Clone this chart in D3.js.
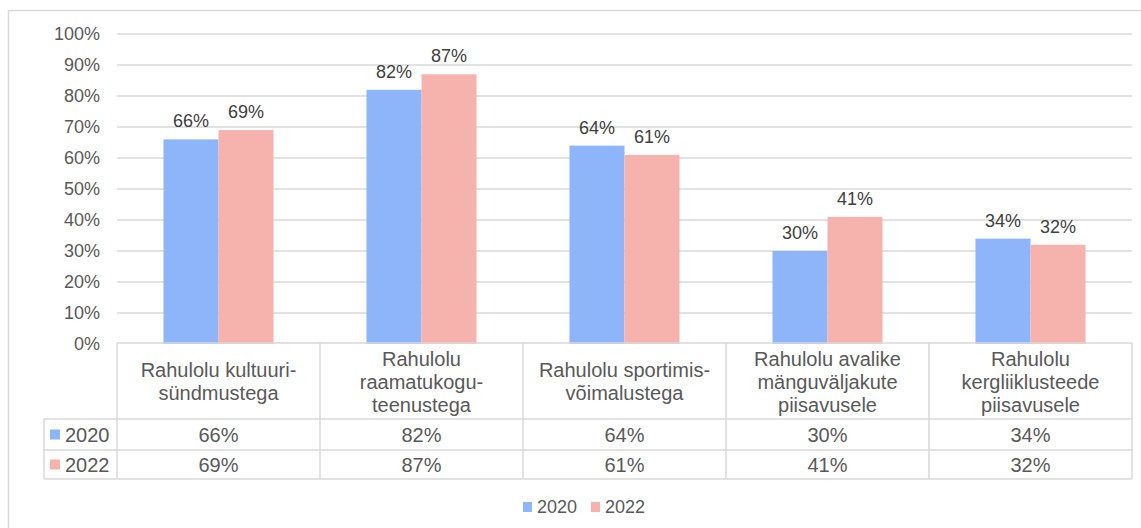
<!DOCTYPE html>
<html>
<head>
<meta charset="utf-8">
<script src="https://cdn.jsdelivr.net/npm/d3@7"></script>
<style>
  body { margin: 0; background: #fff; }
  svg text { font-family: "Liberation Sans", Arial, sans-serif; }
</style>
</head>
<body>
<div id="chart"></div>
<script>
// chart data
var categories = [
    ["Rahulolu kultuuri-", "sündmustega"],
    ["Rahulolu", "raamatukogu-", "teenustega"],
    ["Rahulolu sportimis-", "võimalustega"],
    ["Rahulolu avalike", "mänguväljakute", "piisavusele"],
    ["Rahulolu", "kergliiklusteede", "piisavusele"]
];
var seriesNames = ["2020", "2022"];
var values2020 = [0.66, 0.82, 0.64, 0.30, 0.34];
var values2022 = [0.69, 0.87, 0.61, 0.41, 0.32];
var yTicks = [0, 0.1, 0.2, 0.3, 0.4, 0.5, 0.6, 0.7, 0.8, 0.9, 1.0];
var colors = ["#8eb4f9", "#f6b3ae"];

var width = 1141, height = 528;
var gridColor = "#d9d9d9", textColor = "#595959";
var plotLeft = 117, plotRight = 1132, plotTop = 34, plotBottom = 344;
var headerBottom = 419, row1Bottom = 450, row2Bottom = 479, legendLeft = 44;

var svg = d3.select("#chart")
    .append("svg")
    .attr("width", width)
    .attr("height", height);

// outer border
svg.append("rect")
    .attr("x", 8.5).attr("y", 10.5)
    .attr("width", 1140).attr("height", 530)
    .attr("fill", "none")
    .attr("stroke", gridColor)
    .attr("stroke-width", 1.5);

var idx = d3.range(categories.length);
var x0 = d3.scaleBand().domain(idx).range([plotLeft, plotRight]);
var x1 = d3.scaleBand().domain(seriesNames).range([0, x0.bandwidth()]).paddingOuter(0.845);
var y = d3.scaleLinear().domain([0, 1]).range([plotBottom, plotTop]);

// gridlines
svg.selectAll(".grid")
    .data(yTicks.slice(1))
    .join("line")
    .attr("x1", plotLeft).attr("x2", plotRight)
    .attr("y1", function (d) { return y(d); })
    .attr("y2", function (d) { return y(d); })
    .attr("stroke", gridColor)
    .attr("stroke-width", 1.5);

// y tick labels
svg.selectAll(".ytick")
    .data(yTicks)
    .join("text")
    .attr("x", 100)
    .attr("y", function (d) { return y(d); })
    .attr("dy", "0.35em")
    .attr("text-anchor", "end")
    .attr("font-size", "18px")
    .attr("fill", textColor)
    .text(function (d) { return Math.round(d * 100) + "%"; });

var allSeries = [values2020, values2022];

// bars + data labels
allSeries.forEach(function (vals, s) {
    svg.selectAll(".bar" + s)
        .data(vals)
        .join("rect")
        .attr("x", function (d, i) { return x0(i) + x1(seriesNames[s]); })
        .attr("y", function (d) { return y(d); })
        .attr("width", x1.bandwidth())
        .attr("height", function (d) { return y(0) - y(d); })
        .attr("fill", colors[s]);

    svg.selectAll(".lbl" + s)
        .data(vals)
        .join("text")
        .attr("x", function (d, i) { return x0(i) + x1(seriesNames[s]) + x1.bandwidth() / 2; })
        .attr("y", function (d) { return y(d) - 12; })
        .attr("text-anchor", "middle")
        .attr("font-size", "18px")
        .attr("fill", "#404040")
        .text(function (d) { return Math.round(d * 100) + "%"; });
});

// data table lines
var hLines = [
    {y: plotBottom - 1, x1: plotLeft, x2: plotRight},
    {y: headerBottom, x1: legendLeft, x2: plotRight},
    {y: row1Bottom, x1: legendLeft, x2: plotRight},
    {y: row2Bottom, x1: legendLeft, x2: plotRight}
];
svg.selectAll(".hline")
    .data(hLines)
    .join("line")
    .attr("x1", function (d) { return d.x1; })
    .attr("x2", function (d) { return d.x2; })
    .attr("y1", function (d) { return d.y; })
    .attr("y2", function (d) { return d.y; })
    .attr("stroke", gridColor)
    .attr("stroke-width", 1.5);

var vLines = idx.map(function (i) { return x0(i); }).concat([plotRight]);
svg.selectAll(".vline")
    .data(vLines)
    .join("line")
    .attr("x1", function (d) { return d; })
    .attr("x2", function (d) { return d; })
    .attr("y1", plotBottom - 1)
    .attr("y2", row2Bottom)
    .attr("stroke", gridColor)
    .attr("stroke-width", 1.5);
svg.append("line")
    .attr("x1", legendLeft).attr("x2", legendLeft)
    .attr("y1", headerBottom).attr("y2", row2Bottom)
    .attr("stroke", gridColor)
    .attr("stroke-width", 1.5);

// header labels
var lineH = 23;
var headerMid = (plotBottom + headerBottom) / 2;
categories.forEach(function (lines, i) {
    var t = svg.append("text")
        .attr("text-anchor", "middle")
        .attr("font-size", "20px")
        .attr("fill", textColor);
    lines.forEach(function (ln, k) {
        t.append("tspan")
            .attr("x", x0(i) + x0.bandwidth() / 2)
            .attr("y", headerMid + (k - (lines.length - 1) / 2) * lineH)
            .attr("dy", "0.35em")
            .text(ln);
    });
});

// table rows
var rowTops = [headerBottom, row1Bottom];
var rowBottoms = [row1Bottom, row2Bottom];
allSeries.forEach(function (vals, s) {
    var mid = (rowTops[s] + rowBottoms[s]) / 2;
    svg.append("rect")
        .attr("x", 50).attr("y", mid - 5)
        .attr("width", 10).attr("height", 10)
        .attr("fill", colors[s]);
    svg.append("text")
        .attr("x", 65).attr("y", mid)
        .attr("dy", "0.35em")
        .attr("font-size", "20px")
        .attr("fill", textColor)
        .text(seriesNames[s]);
    svg.selectAll(".cell" + s)
        .data(vals)
        .join("text")
        .attr("x", function (d, i) { return x0(i) + x0.bandwidth() / 2; })
        .attr("y", mid)
        .attr("dy", "0.35em")
        .attr("text-anchor", "middle")
        .attr("font-size", "20px")
        .attr("fill", textColor)
        .text(function (d) { return Math.round(d * 100) + "%"; });
});

// bottom legend
var legendX = [523, 591];
seriesNames.forEach(function (name, s) {
    svg.append("rect")
        .attr("x", legendX[s]).attr("y", 502)
        .attr("width", 9).attr("height", 10)
        .attr("fill", colors[s]);
    svg.append("text")
        .attr("x", legendX[s] + 14).attr("y", 507)
        .attr("dy", "0.35em")
        .attr("font-size", "18px")
        .attr("fill", textColor)
        .text(name);
});
</script>
</body>
</html>
